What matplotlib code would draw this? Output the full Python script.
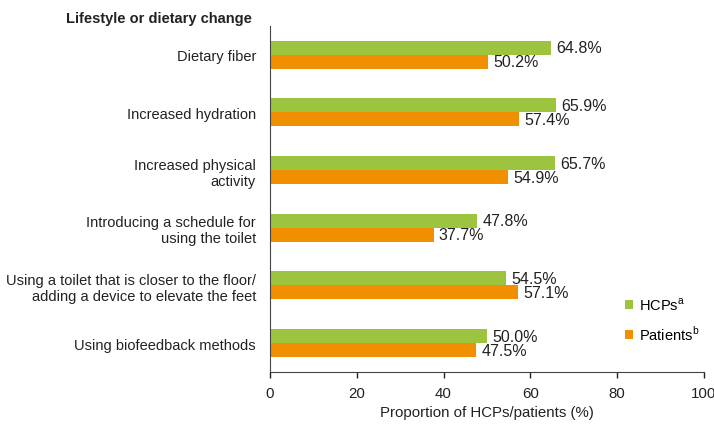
import matplotlib.pyplot as plt
import numpy as np

plt.rcParams['font.family'] = ['Liberation Sans', 'DejaVu Sans']

categories = [
    "Dietary fiber",
    "Increased hydration",
    "Increased physical\nactivity",
    "Introducing a schedule for\nusing the toilet",
    "Using a toilet that is closer to the floor/\nadding a device to elevate the feet",
    "Using biofeedback methods",
]
hcps = [64.8, 65.9, 65.7, 47.8, 54.5, 50.0]
patients = [50.2, 57.4, 54.9, 37.7, 57.1, 47.5]

green = "#9dc43f"
orange = "#f08f00"

fig = plt.figure(figsize=(7.14, 4.27), dpi=100)
ax = fig.add_axes([0.378, 0.1265, 0.608, 0.8105])

y = np.arange(len(categories))
h = 0.243
ax.barh(y - h / 2, hcps, height=h, color=green, label="HCPs$^{\\mathregular{a}}$")
ax.barh(y + h / 2, patients, height=h, color=orange, label="Patients$^{\\mathregular{b}}$")

for yi, v in zip(y, hcps):
    ax.text(v + 1.2, yi - h / 2, f"{v:.1f}%", va="center", ha="left", fontsize=11.5, color="#222222")
for yi, v in zip(y, patients):
    ax.text(v + 1.2, yi + h / 2, f"{v:.1f}%", va="center", ha="left", fontsize=11.5, color="#222222")

ax.set_ylim(len(categories) - 0.5, -0.5)
ax.set_xlim(0, 100)
ax.set_yticks(y)
ax.set_yticklabels(categories, fontsize=10.5, color="#222222", ha="right", multialignment="right")
ax.tick_params(axis="y", length=0, pad=10)
ax.set_xticks([0, 20, 40, 60, 80, 100])
ax.tick_params(axis="x", labelsize=10.8, colors="#222222", length=4, width=1, pad=6)
ax.set_xlabel("Proportion of HCPs/patients (%)", fontsize=10.8, color="#222222", labelpad=4)

for s in ["top", "right"]:
    ax.spines[s].set_visible(False)
ax.spines["left"].set_color("#444444")
ax.spines["bottom"].set_color("#444444")

fig.text(0.092, 0.972, "Lifestyle or dietary change", fontsize=10.5, fontweight="bold",
         color="#222222", va="top", ha="left")

ax.legend(loc="lower right", bbox_to_anchor=(0.99, 0.085), frameon=False, fontsize=10.5,
          handlelength=0.6, handleheight=0.6, handletextpad=0.4, labelspacing=0.8,
          borderpad=0, borderaxespad=0)

fig.savefig("out.png", dpi=100)
